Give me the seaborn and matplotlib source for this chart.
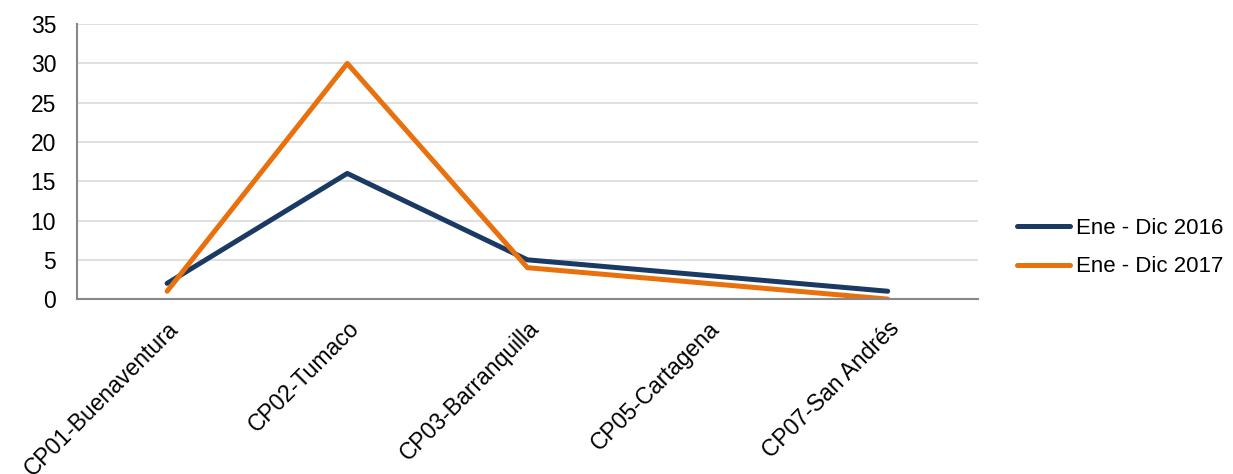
import numpy as np
import pandas as pd
import matplotlib
matplotlib.use("Agg")
import matplotlib.pyplot as plt
import seaborn as sns

# ── Data ────────────────────────────────────────────────────────────────
CATEGORIES = ["CP01-Buenaventura", "CP02-Tumaco", "CP03-Barranquilla",
              "CP05-Cartagena", "CP07-San Andrés"]
SERIES = ["Ene - Dic 2016", "Ene - Dic 2017"]
VALS_2016 = [2, 16, 5, 3, 1]
VALS_2017 = [1, 30, 4, 2, 0]
Y_TICKS = [0, 5, 10, 15, 20, 25, 30, 35]

COLORS = {"Ene - Dic 2016": "#1B3A63", "Ene - Dic 2017": "#E8710E"}
FS = 16.5
LW = 3.6

sns.set_style("white")
plt.rcParams["font.family"] = ["Liberation Sans", "DejaVu Sans"]
plt.rcParams["text.color"] = "black"

df = pd.DataFrame({
    "pos": list(range(len(CATEGORIES))) * 2,
    "value": VALS_2016 + VALS_2017,
    "serie": [SERIES[0]] * len(CATEGORIES) + [SERIES[1]] * len(CATEGORIES),
})

fig = plt.figure(figsize=(12.33, 4.74), dpi=100)
ax = fig.add_axes([0.0625, 0.369, 0.7305, 0.58])

sns.lineplot(data=df, x="pos", y="value", hue="serie", palette=COLORS,
             linewidth=LW, sort=False, ax=ax, legend=False,
             solid_capstyle="round")

ax.set_xlim(-0.5, len(CATEGORIES) - 0.5)
ax.set_ylim(0, 35)
ax.set_yticks(Y_TICKS)
ax.set_yticklabels([str(t) for t in Y_TICKS], fontsize=FS, color="black")
ax.set_xticks(range(len(CATEGORIES)))
ax.set_xticklabels(CATEGORIES, rotation=45, ha="right",
                   rotation_mode="anchor", fontsize=FS, color="black")
ax.set_xticks(np.arange(-0.5, len(CATEGORIES)), minor=True)
ax.tick_params(axis="x", which="major", length=0, pad=13)
ax.tick_params(axis="x", which="minor", length=6, color="#888888", width=1.2)
ax.tick_params(axis="y", length=6, color="#888888", width=1.2, pad=9)
ax.set_xlabel("")
ax.set_ylabel("")

ax.grid(axis="y", color="#D9D9D9", linewidth=1.2)
ax.set_axisbelow(True)
for side in ["top", "right"]:
    ax.spines[side].set_visible(False)
for side in ["left", "bottom"]:
    ax.spines[side].set_color("#888888")
    ax.spines[side].set_linewidth(1.5)

handles = [plt.Line2D([], [], color=COLORS[s], linewidth=LW,
                      solid_capstyle="round") for s in SERIES]
fig.legend(handles, SERIES, loc="center left", bbox_to_anchor=(0.809, 0.478),
           frameon=False, fontsize=16, handlelength=2.35, handletextpad=0.3,
           labelspacing=0.8, labelcolor="black")

fig.savefig("out.png", dpi=100)
